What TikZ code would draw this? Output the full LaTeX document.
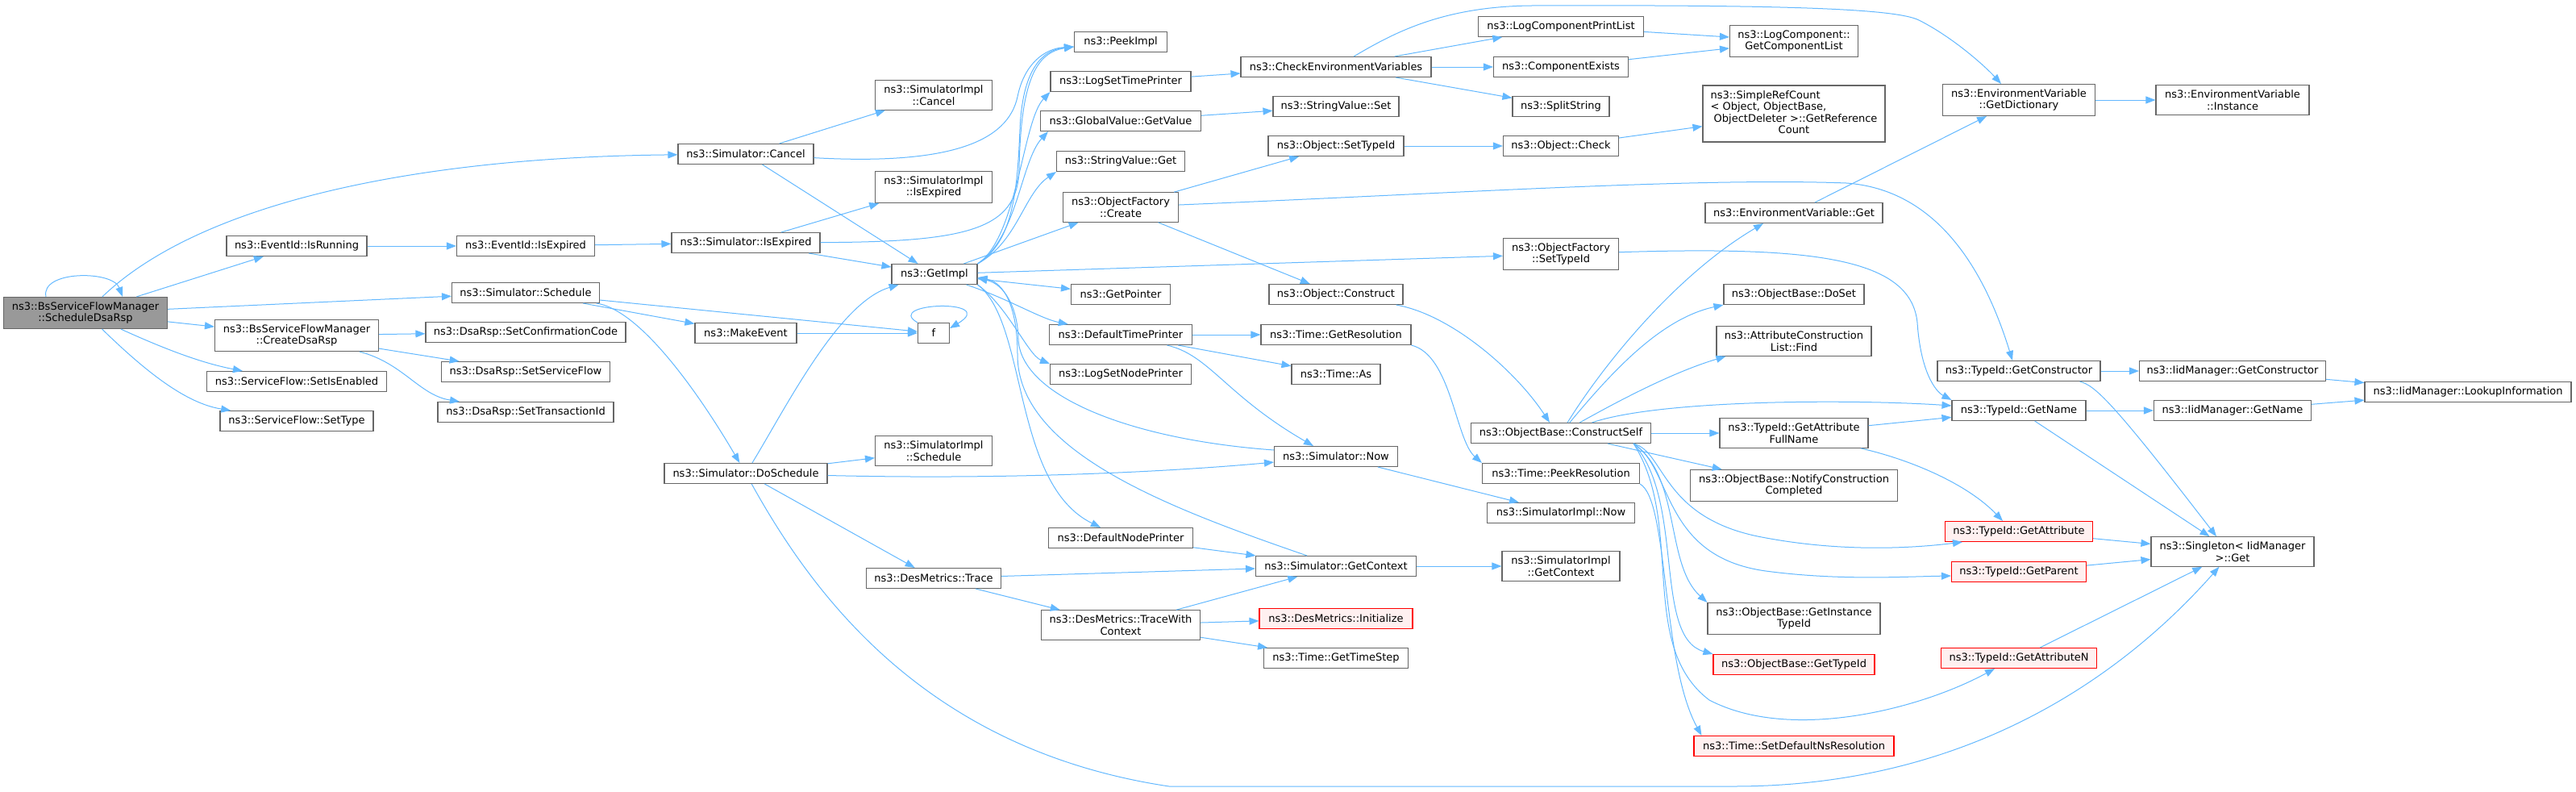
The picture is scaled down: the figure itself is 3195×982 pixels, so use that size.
\documentclass[tikz,border=0pt]{standalone}
\usepackage{fontspec}
\setmainfont{DejaVu Sans}
\usepackage{tikz}
\usetikzlibrary{arrows.meta,positioning,calc}
\definecolor{edgeblue}{RGB}{99,184,255}
\definecolor{boxgray}{RGB}{102,102,102}
\definecolor{rootgray}{RGB}{153,153,153}
\definecolor{redfill}{RGB}{255,240,240}
\tikzstyle{fn}=[draw=boxgray,fill=white,rectangle,line width=1.1pt,minimum height=25pt,inner xsep=3pt,inner ysep=6pt,align=center,font=\fontsize{13}{14.5}\selectfont]
\tikzstyle{rootfn}=[fn,fill=rootgray]
\tikzstyle{redfn}=[fn,draw=red,fill=redfill]
\tikzstyle{call}=[draw=edgeblue,line width=1pt,-{Triangle[length=12pt,width=9pt]}]

\begin{document}
\begin{tikzpicture}[x=1pt,y=-1pt]
\useasboundingbox (0,0) rectangle (3195,982);
% caller and first level
\node[rootfn,minimum width=203pt] (root) at (106,388) {ns3::BsServiceFlowManager\\::ScheduleDsaRsp};
\node[fn,minimum width=174pt] (isrun) at (368,305) {ns3::EventId::IsRunning};
\node[fn,minimum width=203pt] (create) at (368,416) {ns3::BsServiceFlowManager\\::CreateDsaRsp};
\node[fn,minimum width=223pt] (setena) at (368,473) {ns3::ServiceFlow::SetIsEnabled};
\node[fn,minimum width=190pt] (settype) at (368,522) {ns3::ServiceFlow::SetType};
\node[fn,minimum width=171pt] (evexp) at (652,305) {ns3::EventId::IsExpired};
\node[fn,minimum width=183pt] (schedule) at (652,363) {ns3::Simulator::Schedule};
\node[fn,minimum width=248pt] (setconf) at (652,412) {ns3::DsaRsp::SetConfirmationCode};
\node[fn,minimum width=209pt] (setsf) at (652,461) {ns3::DsaRsp::SetServiceFlow};
\node[fn,minimum width=218pt] (settid) at (652,511) {ns3::DsaRsp::SetTransactionId};
\node[fn,minimum width=168pt] (cancel) at (925,191) {ns3::Simulator::Cancel};
\node[fn,minimum width=184pt] (simexp) at (925,301) {ns3::Simulator::IsExpired};
\node[fn,minimum width=126pt] (mkevent) at (925,413) {ns3::MakeEvent};
\node[fn,minimum width=202pt] (dosched) at (925,587) {ns3::Simulator::DoSchedule};
\node[fn,minimum width=145pt] (implcancel) at (1158,118) {ns3::SimulatorImpl\\::Cancel};
\node[fn,minimum width=145pt] (implexp) at (1158,232) {ns3::SimulatorImpl\\::IsExpired};
\node[fn,minimum width=106pt] (getimpl) at (1159,340) {ns3::GetImpl};
\node[fn,minimum width=39pt] (f) at (1158,413) {f};
\node[fn,minimum width=145pt] (implsched) at (1158,559) {ns3::SimulatorImpl\\::Schedule};
\node[fn,minimum width=167pt] (trace) at (1158,717) {ns3::DesMetrics::Trace};
% GetImpl callees
\node[fn,minimum width=115pt] (peek) at (1390,52) {ns3::PeekImpl};
\node[fn,minimum width=174pt] (logtime) at (1390,101) {ns3::LogSetTimePrinter};
\node[fn,minimum width=199pt] (getvalue) at (1390,150) {ns3::GlobalValue::GetValue};
\node[fn,minimum width=159pt] (strget) at (1390,200) {ns3::StringValue::Get};
\node[fn,minimum width=143pt] (ofcreate) at (1390,257) {ns3::ObjectFactory\\::Create};
\node[fn,minimum width=123pt] (getptr) at (1390,365) {ns3::GetPointer};
\node[fn,minimum width=177pt] (deftime) at (1390,415) {ns3::DefaultTimePrinter};
\node[fn,minimum width=175pt] (lognode) at (1390,464) {ns3::LogSetNodePrinter};
\node[fn,minimum width=179pt] (defnode) at (1390,667) {ns3::DefaultNodePrinter};
\node[fn,minimum width=197pt] (tracectx) at (1390,775) {ns3::DesMetrics::TraceWith\\Context};
\node[fn,minimum width=236pt] (checkenv) at (1657,83) {ns3::CheckEnvironmentVariables};
\node[fn,minimum width=156pt] (strset) at (1657,132) {ns3::StringValue::Set};
\node[fn,minimum width=168pt] (setid) at (1657,181) {ns3::Object::SetTypeId};
\node[fn,minimum width=166pt] (construct) at (1657,365) {ns3::Object::Construct};
\node[fn,minimum width=186pt] (getres) at (1657,415) {ns3::Time::GetResolution};
\node[fn,minimum width=110pt] (as) at (1657,464) {ns3::Time::As};
\node[fn,minimum width=153pt] (now) at (1657,566) {ns3::Simulator::Now};
\node[fn,minimum width=199pt] (getctx) at (1657,702) {ns3::Simulator::GetContext};
\node[redfn,minimum width=190pt] (init) at (1657,767) {ns3::DesMetrics::Initialize};
\node[fn,minimum width=179pt] (timestep) at (1657,816) {ns3::Time::GetTimeStep};
\node[fn,minimum width=205pt] (printlist) at (1936,33) {ns3::LogComponentPrintList};
\node[fn,minimum width=167pt] (compexists) at (1936,83) {ns3::ComponentExists};
\node[fn,minimum width=120pt] (split) at (1936,132) {ns3::SplitString};
\node[fn,minimum width=143pt] (check) at (1936,181) {ns3::Object::Check};
\node[fn,minimum width=143pt] (ofsetid) at (1936,315) {ns3::ObjectFactory\\::SetTypeId};
\node[fn,minimum width=223pt] (constructself) at (1936,537) {ns3::ObjectBase::ConstructSelf};
\node[fn,minimum width=195pt] (peekres) at (1936,587) {ns3::Time::PeekResolution};
\node[fn,minimum width=183pt] (implnow) at (1936,636) {ns3::SimulatorImpl::Now};
\node[fn,minimum width=146pt] (implctx) at (1936,702) {ns3::SimulatorImpl\\::GetContext};
\node[fn,minimum width=159pt] (getcomplist) at (2225,51) {ns3::LogComponent::\\GetComponentList};
\node[fn,minimum width=226pt] (refcount) at (2225,141) {\begin{tabular}{@{}l@{}}ns3::SimpleRefCount\\< Object, ObjectBase,\\\ ObjectDeleter >::GetReference\\\multicolumn{1}{@{}c@{}}{Count}\end{tabular}};
\node[fn,minimum width=220pt] (envget) at (2225,264) {ns3::EnvironmentVariable::Get};
\node[fn,minimum width=174pt] (doset) at (2225,365) {ns3::ObjectBase::DoSet};
\node[fn,minimum width=192pt] (find) at (2225,423) {ns3::AttributeConstruction\\List::Find};
\node[fn,minimum width=184pt] (attrfull) at (2225,537) {ns3::TypeId::GetAttribute\\FullName};
\node[fn,minimum width=257pt] (notify) at (2225,602) {ns3::ObjectBase::NotifyConstruction\\Completed};
\node[fn,minimum width=214pt] (insttype) at (2225,767) {ns3::ObjectBase::GetInstance\\TypeId};
\node[redfn,minimum width=200pt] (gettypeid) at (2225,824) {ns3::ObjectBase::GetTypeId};
\node[redfn,minimum width=248pt] (setnsres) at (2225,925) {ns3::Time::SetDefaultNsResolution};
\node[fn,minimum width=189pt] (getdict) at (2504,124) {ns3::EnvironmentVariable\\::GetDictionary};
\node[fn,minimum width=202pt] (getctor) at (2504,460) {ns3::TypeId::GetConstructor};
\node[fn,minimum width=166pt] (getname) at (2504,509) {ns3::TypeId::GetName};
\node[redfn,minimum width=183pt] (getattr) at (2504,659) {ns3::TypeId::GetAttribute};
\node[redfn,minimum width=167pt] (getparent) at (2504,709) {ns3::TypeId::GetParent};
\node[redfn,minimum width=193pt] (getattrn) at (2504,816) {ns3::TypeId::GetAttributeN};
\node[fn,minimum width=190pt] (envinst) at (2769,124) {ns3::EnvironmentVariable\\::Instance};
\node[fn,minimum width=231pt] (iidctor) at (2769,460) {ns3::IidManager::GetConstructor};
\node[fn,minimum width=195pt] (iidname) at (2769,509) {ns3::IidManager::GetName};
\node[fn,minimum width=202pt] (singleton) at (2769,684) {ns3::Singleton< IidManager\\ >::Get};
\node[fn,minimum width=256pt] (lookup) at (3061,486) {ns3::IidManager::LookupInformation};

% calls
\draw[call] ([xshift=-49pt]root.north) .. controls (50,335) and (140,335) .. ([xshift=46pt]root.north);
\draw[call] (root) .. controls (250,250) and (520,195) .. (cancel);
\draw[call] (root) -- (isrun);
\draw[call] (root) -- (schedule);
\draw[call] (root) -- (create);
\draw[call] (root) .. controls (220,440) and (260,452) .. (setena);
\draw[call] (root) .. controls (180,460) and (230,500) .. (settype);
\draw[call] (isrun) -- (evexp);
\draw[call] (evexp) -- (simexp);
\draw[call] (create) -- (setconf);
\draw[call] (create) -- (setsf);
\draw[call] (create) .. controls (500,450) and (520,490) .. (settid);
\draw[call] (cancel) -- (implcancel);
\draw[call] (cancel) .. controls (1180,205) and (1250,175) .. (1262,120) .. controls (1270,80) and (1295,60) .. ([yshift=-6pt]peek.west);
\draw[call] (cancel) -- (getimpl);
\draw[call] (simexp) -- (implexp);
\draw[call] (simexp) .. controls (1200,300) and (1262,285) .. (1264,210) .. controls (1266,100) and (1285,65) .. ([yshift=-6pt]peek.west);
\draw[call] (simexp) -- (getimpl);
\draw[call] (schedule) -- (mkevent);
\draw[call] (schedule) -- (f);
\draw[call] (schedule) .. controls (800,385) and (880,510) .. (dosched);
\draw[call] (mkevent) -- (f);
\draw[call] (f.north west) .. controls (1095,375) and (1240,370) .. ([yshift=6pt]f.east);
\draw[call] (dosched) .. controls (975,505) and (1040,375) .. (getimpl);
\draw[call] (dosched) -- (implsched);
\draw[call] (dosched) .. controls (1250,595) and (1450,585) .. (now);
\draw[call] (dosched) -- (trace);
\draw[call] (dosched) .. controls (1010,740) and (1150,930) .. (1450,975) -- (2150,975) .. controls (2450,975) and (2640,830) .. (singleton);
\draw[call] (getimpl.north east) .. controls (1258,300) and (1262,230) .. (1265,160) .. controls (1268,90) and (1290,62) .. ([yshift=-6pt]peek.west);
\draw[call] (getimpl.north east) .. controls (1262,295) and (1268,150) .. (logtime.south west);
\draw[call] (getimpl.north east) .. controls (1262,295) and (1266,200) .. ([xshift=10pt]getvalue.south west);
\draw[call] (getimpl.north east) .. controls (1262,300) and (1270,240) .. (strget.south west);
\draw[call] (getimpl) -- (ofcreate);
\draw[call] (getimpl) -- (getptr);
\draw[call] (getimpl) -- (ofsetid);
\draw[call] (getimpl) .. controls (1250,370) and (1290,395) .. (deftime);
\draw[call] (getimpl.south east) .. controls (1250,380) and (1275,440) .. (lognode.north west);
\draw[call] (getimpl.south east) .. controls (1275,400) and (1255,600) .. ([xshift=-25pt]defnode.north);
\draw[call] ([yshift=8pt]now.west) .. controls (1400,545) and (1265,490) .. (1263,420) .. controls (1262,380) and (1245,352) .. ([yshift=-5pt]getimpl.east);
\draw[call] ([xshift=-36pt]getctx.north) .. controls (1450,630) and (1262,560) .. (1262,440) .. controls (1262,380) and (1245,350) .. ([yshift=-4pt]getimpl.east);
\draw[call] (deftime) -- (getres);
\draw[call] (deftime) -- (as);
\draw[call] (deftime) .. controls (1500,440) and (1520,490) .. ([xshift=-28pt]now.north);
\draw[call] (getres.south east) .. controls (1800,440) and (1805,545) .. (peekres.north west);
\draw[call] (now) -- (implnow);
\draw[call] (defnode) -- (getctx);
\draw[call] (trace) -- (getctx);
\draw[call] (trace) -- (tracectx);
\draw[call] (tracectx) -- (getctx);
\draw[call] (tracectx) -- (init);
\draw[call] (tracectx) -- (timestep);
\draw[call] (getctx) -- (implctx);
\draw[call] (logtime) -- (checkenv);
\draw[call] (getvalue) -- (strset);
\draw[call] (ofcreate) -- (setid);
\draw[call] (ofcreate) -- (construct);
\draw[call] (ofcreate) .. controls (1800,240) and (2100,220) .. (2290,227) .. controls (2400,235) and (2460,330) .. ([xshift=-8pt]getctor.north);
\draw[call] (ofsetid) .. controls (2250,305) and (2370,320) .. (2378,400) .. controls (2382,460) and (2400,485) .. (getname.north west);
\draw[call] (setid) -- (check);
\draw[call] (check) -- (refcount);
\draw[call] (construct) .. controls (1800,390) and (1880,460) .. ([xshift=-14pt]constructself.north);
\draw[call] (checkenv) -- (printlist);
\draw[call] (checkenv) -- (compexists);
\draw[call] (checkenv) -- (split);
\draw[call] (checkenv) .. controls (1730,40) and (1790,8) .. (1900,7) .. controls (2200,6) and (2350,10) .. (2380,25) .. controls (2420,45) and (2460,80) .. ([xshift=-22pt]getdict.north);
\draw[call] (printlist) -- (getcomplist);
\draw[call] (compexists) -- (getcomplist);
\draw[call] (constructself) .. controls (1990,450) and (2080,340) .. ([xshift=-38pt]envget.south);
\draw[call] (constructself) .. controls (2000,460) and (2060,395) .. (doset.south west);
\draw[call] (constructself) .. controls (2020,490) and (2080,460) .. ([xshift=12pt]find.south west);
\draw[call] (constructself) .. controls (2060,495) and (2300,495) .. ([yshift=6pt]getname.west);
\draw[call] (constructself) -- (attrfull);
\draw[call] (constructself) -- (notify);
\draw[call] ([xshift=-22pt]constructself.south east) .. controls (2065,560) and (2060,640) .. (2180,665) .. controls (2280,685) and (2370,680) .. ([xshift=22pt]getattr.south west);
\draw[call] ([xshift=-22pt]constructself.south east) .. controls (2075,580) and (2060,690) .. (2190,708) .. controls (2280,720) and (2360,715) .. ([yshift=-5pt]getparent.west);
\draw[call] ([xshift=-22pt]constructself.south east) .. controls (2085,590) and (2065,700) .. (insttype.north west);
\draw[call] ([xshift=-22pt]constructself.south east) .. controls (2090,620) and (2050,790) .. (gettypeid.north west);
\draw[call] ([xshift=-22pt]constructself.south east) .. controls (2090,650) and (2030,800) .. (2120,868) .. controls (2220,920) and (2380,880) .. ([xshift=-30pt]getattrn.south);
\draw[call] (peekres.south east) .. controls (2070,620) and (2060,820) .. ([xshift=10pt]setnsres.north west);
\draw[call] (attrfull) -- (getname);
\draw[call] (attrfull) .. controls (2370,570) and (2440,600) .. ([xshift=-20pt]getattr.north);
\draw[call] (getname) -- (iidname);
\draw[call] (getname) -- (singleton);
\draw[call] (getctor) -- (iidctor);
\draw[call] ([xshift=-26pt]getctor.south east) .. controls (2598,478) and (2618,495) .. ([xshift=-20pt]singleton.north);
\draw[call] (getattr) -- (singleton);
\draw[call] (getparent) -- (singleton);
\draw[call] (getattrn) -- (singleton);
\draw[call] (iidctor) -- (lookup);
\draw[call] (iidname) -- (lookup);
\draw[call] (envget) -- (getdict);
\draw[call] (getdict) -- (envinst);
\end{tikzpicture}
\end{document}
